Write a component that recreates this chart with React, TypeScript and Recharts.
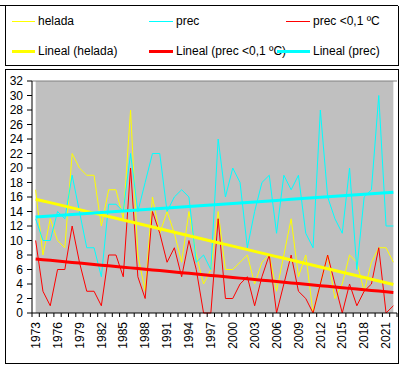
import { LineChart, Line, XAxis, YAxis, ReferenceArea, ReferenceLine } from 'recharts';

const years = [
  1973, 1974, 1975, 1976, 1977, 1978, 1979, 1980, 1981, 1982,
  1983, 1984, 1985, 1986, 1987, 1988, 1989, 1990, 1991, 1992,
  1993, 1994, 1995, 1996, 1997, 1998, 1999, 2000, 2001, 2002,
  2003, 2004, 2005, 2006, 2007, 2008, 2009, 2010, 2011, 2012,
  2013, 2014, 2015, 2016, 2017, 2018, 2019, 2020, 2021, 2022,
];

const helada = [
  17, 8, 13, 10, 9, 22, 20, 19, 19, 12,
  17, 17, 13, 28, 8, 3, 16, 11, 14, 11,
  7, 14, 8, 4, 6, 14, 6, 6, 7, 8,
  4, 7, 8, 3, 8, 13, 5, 8, 0, 4,
  8, 2, 4, 8, 7, 3, 7, 9, 9, 7,
];

const prec = [
  13, 10, 10, 14, 13, 19, 14, 9, 9, 5,
  15, 15, 14, 22, 14, 18, 22, 22, 14, 16,
  17, 16, 7, 8, 6, 24, 16, 20, 18, 9,
  14, 18, 19, 11, 19, 17, 19, 11, 9, 28,
  16, 13, 11, 20, 6, 16, 17, 30, 12, 12,
];

const precBajoCero = [
  10, 3, 1, 6, 6, 12, 7, 3, 3, 1,
  8, 8, 5, 20, 5, 2, 14, 11, 7, 9,
  5, 10, 6, 0, 0, 13, 2, 2, 4, 5,
  1, 5, 8, 0, 4, 8, 3, 2, 0, 4,
  8, 4, 0, 4, 1, 3, 4, 9, 0, 1,
];

const yTicks = [0, 2, 4, 6, 8, 10, 12, 14, 16, 18, 20, 22, 24, 26, 28, 30, 32];

// linea de tendencia (minimos cuadrados), como "Lineal" de Excel
function lineal(values: number[]) {
  const n = values.length;
  const mx = (n - 1) / 2;
  const my = values.reduce((a, b) => a + b, 0) / n;
  let sxy = 0;
  let sxx = 0;
  values.forEach((v, i) => {
    sxy += (i - mx) * (v - my);
    sxx += (i - mx) * (i - mx);
  });
  const b = sxy / sxx;
  return values.map((_, i) => my + b * (i - mx));
}

const tHelada = lineal(helada);
const tPrec = lineal(prec);
const tBajo = lineal(precBajoCero);

const data = years.map((y, i) => ({
  year: y,
  helada: helada[i],
  prec: prec[i],
  bajo: precBajoCero[i],
  tHelada: tHelada[i],
  tPrec: tPrec[i],
  tBajo: tBajo[i],
}));

const PLOT_LEFT = 32;
const PLOT_RIGHT = 397;
const PLOT_TOP = 81;
const PLOT_BOTTOM = 313;
const BAND = (PLOT_RIGHT - PLOT_LEFT) / years.length;
const FONT = '"Liberation Sans", Arial, sans-serif';

function YearTick(props: any) {
  const { x, payload, index } = props;
  const left = x - BAND / 2;
  return (
    <g>
      <line x1={left} y1={PLOT_BOTTOM} x2={left} y2={PLOT_BOTTOM + 4} stroke="#000" />
      {index === years.length - 1 && (
        <line x1={x + BAND / 2} y1={PLOT_BOTTOM} x2={x + BAND / 2} y2={PLOT_BOTTOM + 4} stroke="#000" />
      )}
      {index % 3 === 0 && (
        <text
          transform={`translate(${x},${PLOT_BOTTOM + 9}) rotate(-90)`}
          textAnchor="end"
          dy="0.35em"
          fontSize={12}
          fontFamily={FONT}
          fill="#000"
        >
          {payload.value}
        </text>
      )}
    </g>
  );
}

const legendItems = [
  { label: 'helada', color: '#FFFF00', w: 1, x: 12, lx: 35, y: 21 },
  { label: 'prec', color: '#00FFFF', w: 1, x: 149, lx: 173, y: 21 },
  { label: 'prec <0,1 ºC', color: '#FF0000', w: 1, x: 286, lx: 310, y: 21 },
  { label: 'Lineal (helada)', color: '#FFFF00', w: 3, x: 12, lx: 35, y: 51 },
  { label: 'Lineal (prec <0,1 ºC)', color: '#FF0000', w: 3, x: 149, lx: 173, y: 51 },
  { label: 'Lineal (prec)', color: '#00FFFF', w: 3, x: 277, lx: 310, y: 51 },
];

export default function App() {
  return (
    <div
      style={{
        position: 'fixed',
        left: 0,
        top: 0,
        width: 403,
        height: 369,
        background: '#fff',
        fontFamily: FONT,
        overflow: 'hidden',
      }}
    >
      <div style={{ position: 'absolute', left: 0, top: 5, width: 398, height: 1, background: '#000' }} />
      <div
        style={{
          position: 'absolute',
          left: 5,
          top: 6,
          width: 392,
          height: 59,
          borderLeft: '1px solid #000',
          borderRight: '1px solid #000',
          borderBottom: '1px solid #000',
        }}
      />
      <div
        style={{
          position: 'absolute',
          left: 5,
          top: 69,
          width: 392,
          height: 293,
          border: '1px solid #000',
        }}
      />
      {legendItems.map((it) => (
        <div key={it.label}>
          <div
            style={{
              position: 'absolute',
              left: it.x,
              top: it.y - Math.floor(it.w / 2),
              width: it.lx - it.x,
              height: it.w,
              background: it.color,
            }}
          />
          <div
            style={{
              position: 'absolute',
              left: it.lx + 3,
              top: it.y - 8,
              fontSize: 12,
              lineHeight: '16px',
              color: '#000',
              whiteSpace: 'nowrap',
            }}
          >
            {it.label}
          </div>
        </div>
      ))}
      <div style={{ position: 'absolute', left: 0, top: 0 }}>
        <LineChart
          width={403}
          height={369}
          data={data}
          margin={{ top: PLOT_TOP, right: 403 - PLOT_RIGHT, bottom: 0, left: 0 }}
        >
          <ReferenceArea y1={0} y2={32} fill="#C0C0C0" fillOpacity={1} stroke="none" />
          <ReferenceLine y={32} stroke="#808080" />
          <XAxis
            dataKey="year"
            interval={0}
            height={369 - PLOT_BOTTOM}
            padding={{ left: BAND / 2, right: BAND / 2 }}
            tickLine={false}
            axisLine={{ stroke: '#000' }}
            tick={<YearTick />}
          />
          <YAxis
            width={PLOT_LEFT}
            domain={[0, 32]}
            ticks={yTicks}
            interval={0}
            tickSize={5}
            tickMargin={4}
            axisLine={{ stroke: '#000' }}
            tickLine={{ stroke: '#000' }}
            tick={{ fill: '#000', fontSize: 12, fontFamily: FONT }}
          />
          <Line dataKey="helada" stroke="#FFFF00" strokeWidth={1} dot={false} isAnimationActive={false} />
          <Line dataKey="prec" stroke="#00FFFF" strokeWidth={1} dot={false} isAnimationActive={false} />
          <Line dataKey="bajo" stroke="#FF0000" strokeWidth={1} dot={false} isAnimationActive={false} />
          <Line dataKey="tHelada" stroke="#FFFF00" strokeWidth={3} dot={false} isAnimationActive={false} />
          <Line dataKey="tBajo" stroke="#FF0000" strokeWidth={3} dot={false} isAnimationActive={false} />
          <Line dataKey="tPrec" stroke="#00FFFF" strokeWidth={3} dot={false} isAnimationActive={false} />
        </LineChart>
      </div>
    </div>
  );
}
